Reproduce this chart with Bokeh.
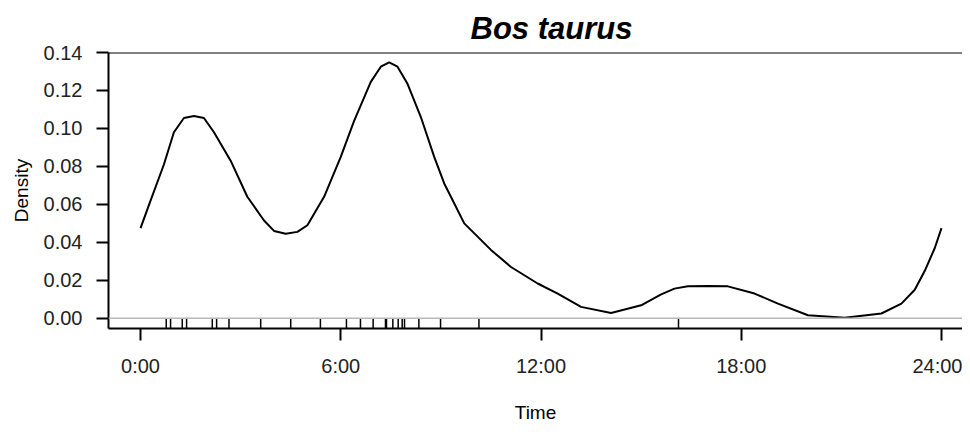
from bokeh.plotting import figure
from bokeh.models import Range1d, FixedTicker, Span
from bokeh.embed import file_html
from bokeh.resources import INLINE

# Kernel density of activity (hours of day)
hours = [0.0, 0.3, 0.7, 1.0, 1.3, 1.6, 1.9, 2.2, 2.7, 3.2, 3.7, 4.0, 4.35, 4.7,
         5.0, 5.5, 6.0, 6.4, 6.9, 7.2, 7.45, 7.7, 8.0, 8.4, 8.8, 9.1, 9.3, 9.7,
         10.5, 11.1, 11.9, 12.5, 13.2, 14.1, 15.0, 15.6, 16.0, 16.4, 17.0, 17.6,
         18.4, 19.1, 20.0, 21.1, 22.2, 22.8, 23.2, 23.5, 23.8, 24.0]
density = [0.0475, 0.062, 0.081, 0.098, 0.1055, 0.1065, 0.1055, 0.098, 0.083,
           0.064, 0.0515, 0.046, 0.0445, 0.0455, 0.049, 0.064, 0.085, 0.104,
           0.1245, 0.1325, 0.1348, 0.1325, 0.1235, 0.106, 0.085, 0.071, 0.064,
           0.050, 0.036, 0.027, 0.0183, 0.013, 0.006, 0.0028, 0.0068, 0.0126,
           0.0156, 0.0168, 0.017, 0.0168, 0.013, 0.0077, 0.0016, 0.0003, 0.0025,
           0.0077, 0.015, 0.025, 0.037, 0.0475]

# Observed record times (rug)
rug_hours = [0.77, 0.90, 1.25, 1.38, 2.15, 2.28, 2.65, 3.60, 4.50, 5.39, 6.17,
             6.59, 6.97, 7.34, 7.37, 7.56, 7.72, 7.84, 7.91, 8.34, 8.99, 10.14,
             16.12]

x_ticks = [0, 6, 12, 18, 24]
x_tick_labels = ["0:00", "6:00", "12:00", "18:00", "24:00"]
y_ticks = [0.00, 0.02, 0.04, 0.06, 0.08, 0.10, 0.12, 0.14]
y_tick_labels = ["0.00", "0.02", "0.04", "0.06", "0.08", "0.10", "0.12", "0.14"]

FONT = "Liberation Sans"
Y_BOTTOM = -0.0054

p = figure(width=962, height=430, output_backend="svg", toolbar_location=None,
           x_range=Range1d(-0.96, 24.63), y_range=Range1d(Y_BOTTOM, 0.14),
           min_border_left=108, min_border_right=0, min_border_bottom=102,
           min_border_top=52)

p.title.text = "Bos taurus"
p.title.text_font = FONT
p.title.text_font_size = "31px"
p.title.text_font_style = "bold italic"
p.title.align = "left"
p.title.offset = 362
p.title.standoff = 14
p.title.text_color = "black"

p.grid.grid_line_color = None
p.outline_line_color = None
p.background_fill_color = "white"
p.border_fill_color = "white"

# top border
p.add_layout(Span(location=0.14, dimension="width", line_color="black", line_width=2))
# zero line
p.add_layout(Span(location=0.0, dimension="width", line_color="#b8b8b8", line_width=1.5))

# rug
p.segment(x0=rug_hours, y0=[0.0] * len(rug_hours), x1=rug_hours,
          y1=[Y_BOTTOM] * len(rug_hours), line_color="black", line_width=1.5)

# density curve
p.line(hours, density, line_color="black", line_width=2)

for ax in (p.xaxis, p.yaxis):
    ax.axis_line_width = 2
    ax.axis_line_color = "black"
    ax.major_tick_line_width = 2
    ax.major_tick_line_color = "black"
    ax.major_tick_in = 0
    ax.major_tick_out = 12
    ax.minor_tick_line_color = None
    ax.major_label_text_font = FONT
    ax.major_label_text_font_size = "20px"
    ax.major_label_text_color = "#222222"
    ax.axis_label_text_font = FONT
    ax.axis_label_text_font_size = "19px"
    ax.axis_label_text_font_style = "normal"
    ax.axis_label_text_color = "black"

p.xaxis.ticker = FixedTicker(ticks=x_ticks)
p.xaxis.major_label_overrides = dict(zip(x_ticks, x_tick_labels))
p.xaxis.major_label_standoff = 14
p.xaxis.axis_label = "Time"
p.xaxis.axis_label_standoff = 22

p.yaxis.ticker = FixedTicker(ticks=y_ticks)
p.yaxis.major_label_overrides = dict(zip(y_ticks, y_tick_labels))
p.yaxis.major_label_standoff = 14
p.yaxis.axis_label = "Density"
p.yaxis.axis_label_standoff = 9

open("out.html", "w").write(file_html(p, INLINE))
